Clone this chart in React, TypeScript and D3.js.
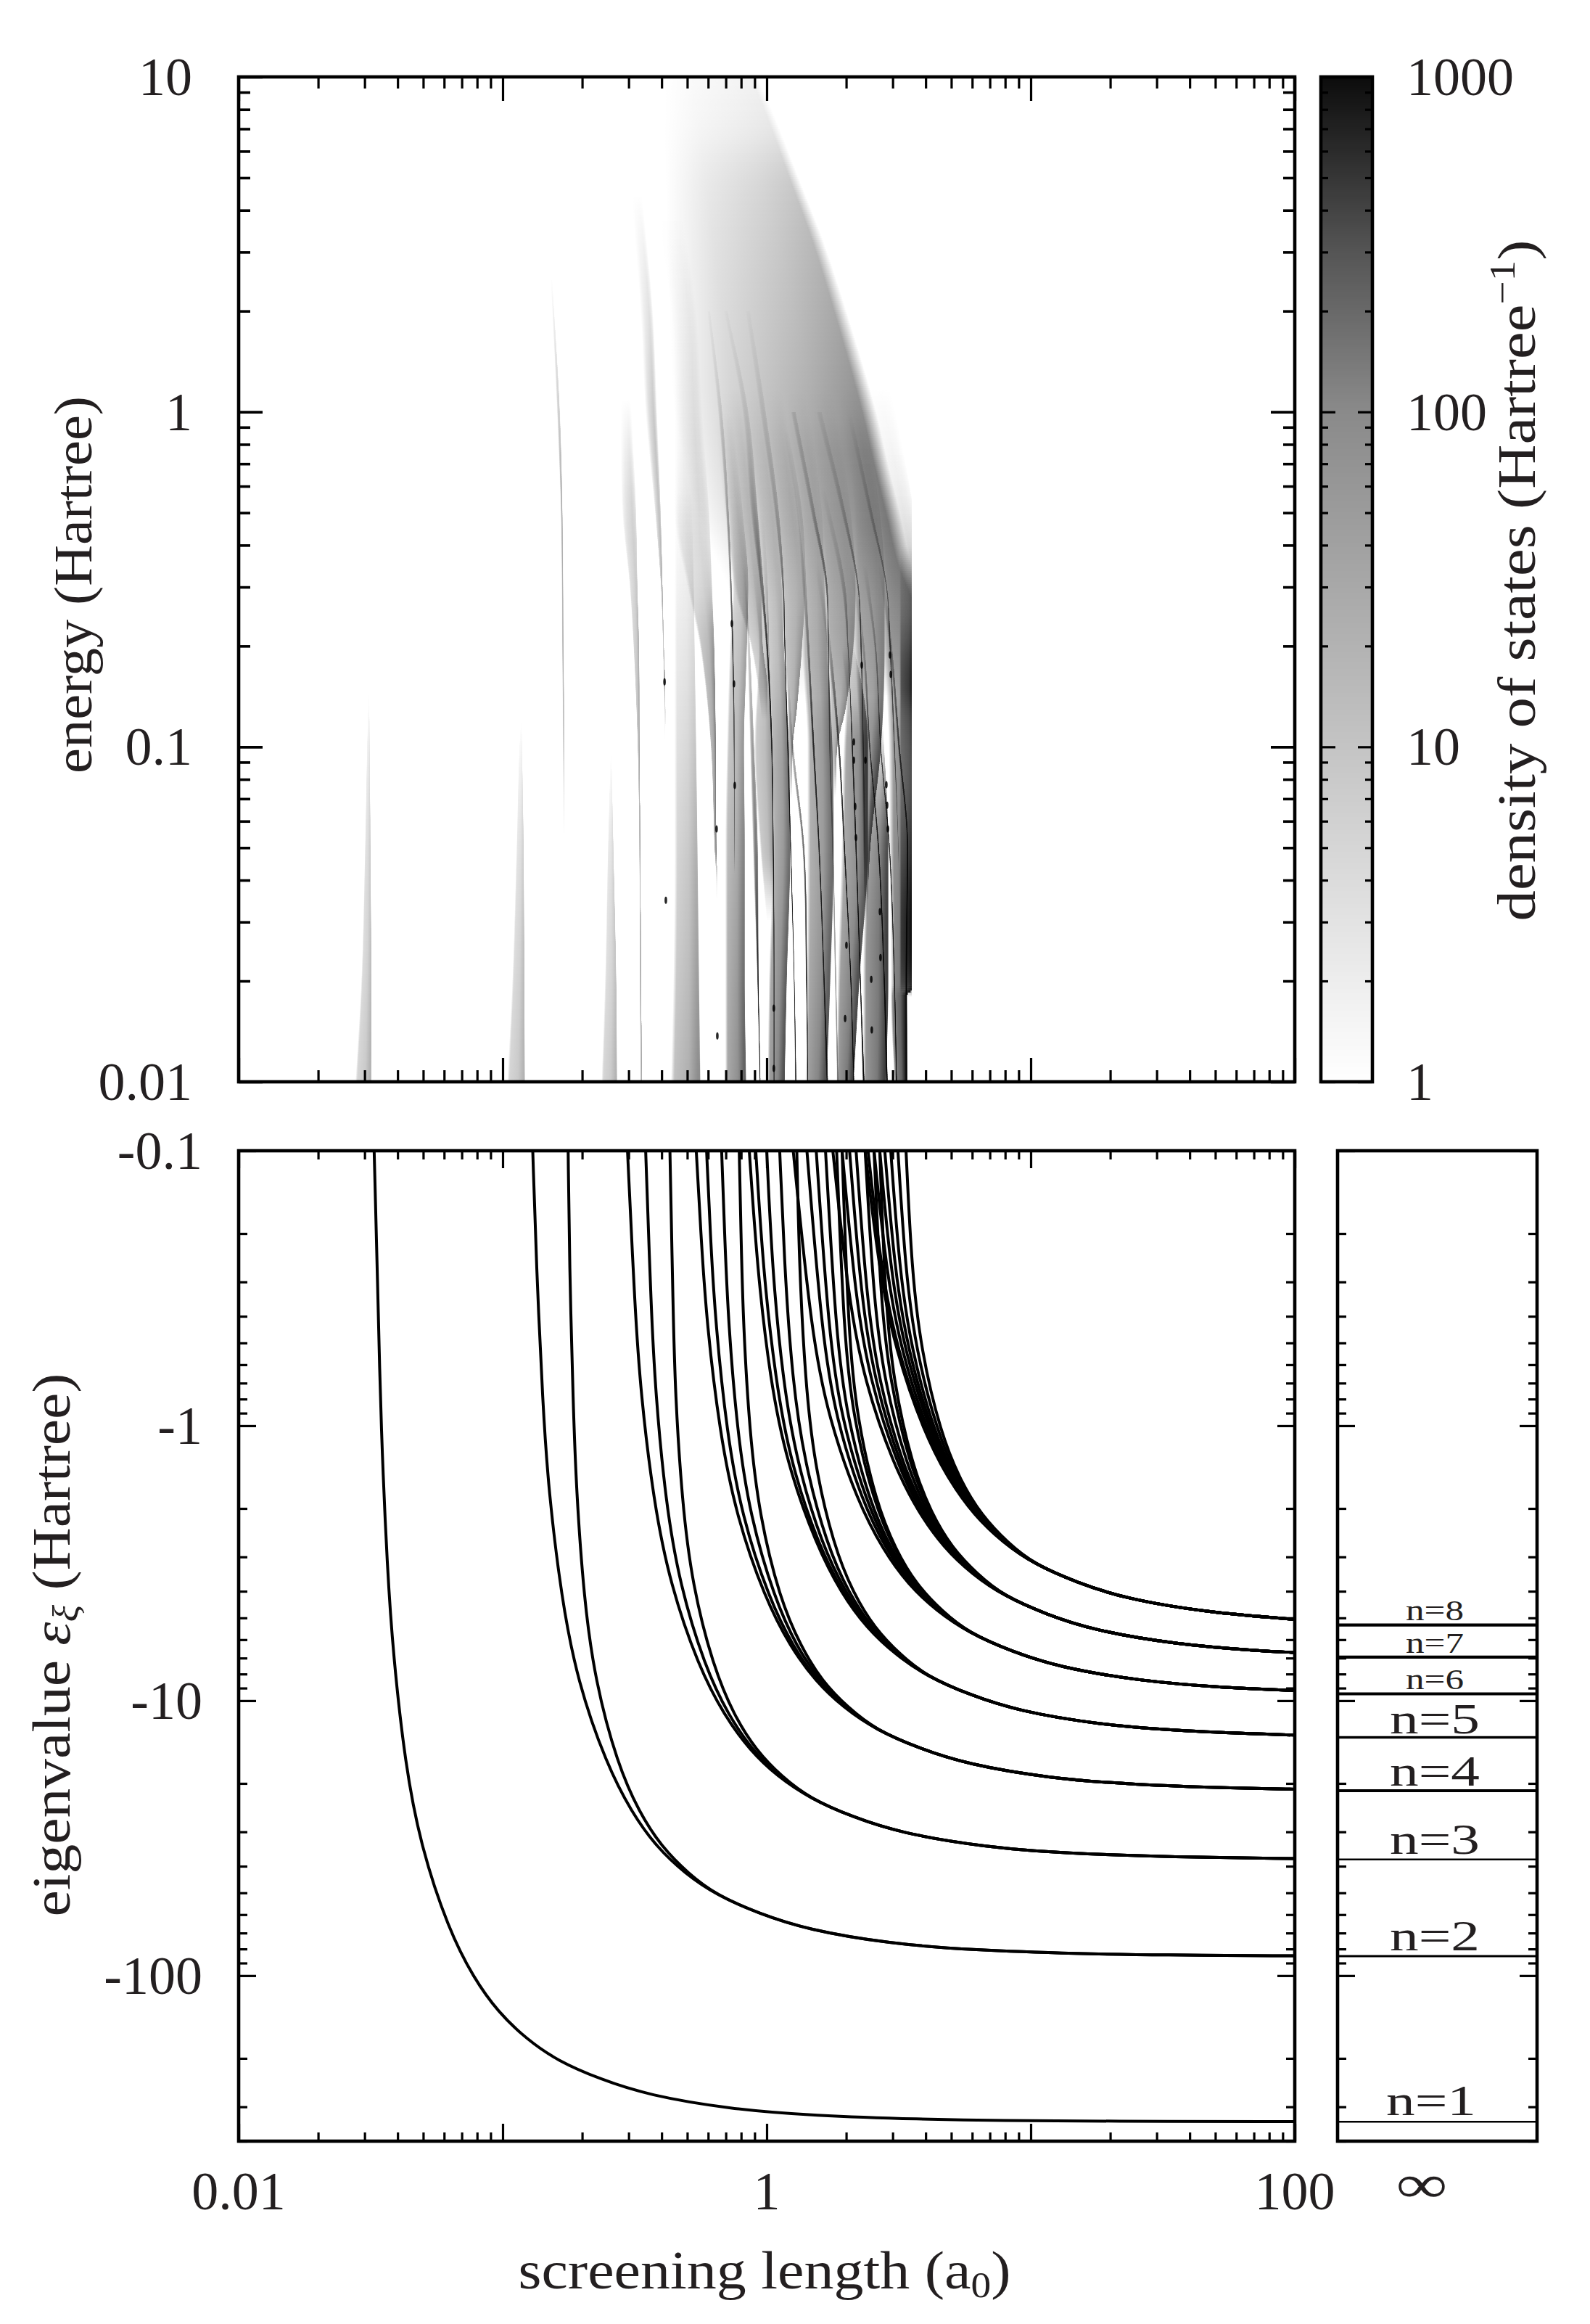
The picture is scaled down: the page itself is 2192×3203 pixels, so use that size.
// App.tsx - screened Coulomb spectrum: density of states above, eigenvalues below
import React, { useRef, useEffect } from 'react';
import * as d3 from 'd3';

const WIDTH = 2192;
const HEIGHT = 3203;
const FONT = '"Liberation Serif", serif';
const INK = '#231f20';

// ---------- eigenvalue curves, screening length vs energy ----------
const n1Lambda = [0.0326, 0.0337, 0.0346, 0.0366, 0.0385, 0.0427, 0.049, 0.0624, 0.0776, 0.0962, 0.123, 0.161, 0.234, 0.354, 0.731, 1.5, 3.85, 7.7, 19.2, 100];
const n1Energy = [-0.1, -0.34, -1.02, -3.4, -6.8, -17, -34, -68, -102, -136, -170, -204, -238, -272, -306, -323, -333.2, -336.6, -338.6, -339.6];

const n2Energy = [-0.1, -0.255, -0.85, -1.7, -4.25, -8.5, -17, -25.5, -34, -42.5];
const n2Heads = [
  [0.13, 0.134, 0.142, 0.149, 0.167, 0.192, 0.247, 0.308, 0.382, 0.49],
  [0.177, 0.179, 0.185, 0.19, 0.203, 0.224, 0.272, 0.329, 0.4, 0.504],
];
const n2TailEnergy = [-51, -59.5, -68, -76.5, -80.75, -83.3, -84.15, -84.74];
const n2TailLambda = [0.646, 0.938, 1.42, 2.92, 6.0, 15.4, 30.8, 100];

const n3Energy = [-0.1, -0.378, -0.756, -1.89, -3.78, -7.56, -11.34, -15.12, -18.9];
const n3Heads = [
  [0.297, 0.317, 0.333, 0.373, 0.431, 0.553, 0.692, 0.861, 1.1],
  [0.348, 0.365, 0.379, 0.414, 0.468, 0.584, 0.718, 0.881, 1.12],
  [0.43, 0.442, 0.45, 0.478, 0.522, 0.628, 0.753, 0.91, 1.14],
];
const n3TailEnergy = [-22.68, -26.46, -30.24, -34.02, -35.91, -37.04, -37.54];
const n3TailLambda = [1.46, 2.11, 3.19, 6.59, 13.5, 34.6, 100];

const n4Energy = [-0.1, -0.2125, -0.425, -1.06, -2.13, -4.25, -6.38, -8.5, -10.63];
const n4Heads = [
  [0.541, 0.565, 0.593, 0.664, 0.767, 0.985, 1.23, 1.53, 1.96],
  [0.592, 0.613, 0.64, 0.706, 0.805, 1.02, 1.26, 1.55, 1.98],
  [0.675, 0.694, 0.716, 0.774, 0.865, 1.07, 1.3, 1.59, 2.01],
  [0.787, 0.8, 0.815, 0.861, 0.939, 1.12, 1.35, 1.62, 2.04],
];
const n4TailEnergy = [-12.75, -14.88, -17, -19.13, -20.19, -20.83, -20.99];
const n4TailLambda = [2.59, 3.76, 5.68, 11.7, 24, 61.5, 100];

const n5Energy = [-0.1, -0.272, -0.68, -1.36, -2.72, -4.08, -5.44, -6.8];
const n5Heads = [
  [0.859, 0.922, 1.03, 1.19, 1.54, 1.92, 2.39, 3.07],
  [0.909, 0.969, 1.08, 1.23, 1.57, 1.95, 2.41, 3.09],
  [1.0, 1.05, 1.15, 1.3, 1.62, 2.0, 2.45, 3.12],
  [1.12, 1.17, 1.25, 1.39, 1.69, 2.05, 2.5, 3.15],
  [1.3, 1.33, 1.4, 1.51, 1.79, 2.13, 2.56, 3.2],
];
const n5TailEnergy = [-8.16, -9.52, -10.88, -12.24, -12.92, -13.34];
const n5TailLambda = [4.05, 5.87, 8.87, 18.3, 37.6, 100];

const n6Energy = [-0.1, -0.472, -0.944, -1.89, -2.83, -3.78, -4.72];
const n6Heads = [
  [1.26, 1.48, 1.72, 2.21, 2.76, 3.43, 4.4],
  [1.42, 1.62, 1.83, 2.3, 2.84, 3.5, 4.46],
  [1.54, 1.72, 1.92, 2.38, 2.9, 3.55, 4.5],
  [1.67, 1.83, 2.02, 2.45, 2.96, 3.6, 4.54],
  [1.84, 1.96, 2.13, 2.54, 3.04, 3.66, 4.59],
  [1.93, 2.04, 2.2, 2.59, 3.08, 3.69, 4.61],
];
const n6TailEnergy = [-5.66, -6.61, -7.55, -8.5, -8.97, -9.18];
const n6TailLambda = [5.81, 8.43, 12.7, 26.3, 54, 100];

const n7Energy = [-0.1, -0.347, -0.694, -1.39, -2.08, -2.78, -3.47];
const n7Heads = [
  [1.78, 2.04, 2.35, 3.02, 3.77, 4.69, 6.0],
  [1.93, 2.17, 2.47, 3.12, 3.85, 4.75, 6.06],
  [2.06, 2.28, 2.57, 3.19, 3.92, 4.8, 6.1],
  [2.18, 2.39, 2.66, 3.27, 3.98, 4.85, 6.14],
  [2.36, 2.54, 2.79, 3.38, 4.06, 4.92, 6.2],
  [2.55, 2.7, 2.93, 3.48, 4.15, 4.99, 6.25],
  [2.68, 2.81, 3.02, 3.55, 4.2, 5.03, 6.29],
];
const n7TailEnergy = [-4.16, -4.86, -5.55, -6.25, -6.59, -6.68];
const n7TailLambda = [7.9, 11.5, 17.3, 35.8, 73.5, 100];

const n8Energy = [-0.1, -0.27, -0.53, -1.06, -1.59, -2.12, -2.66];
const n8Heads = [
  [2.36, 2.66, 3.07, 3.94, 4.92, 6.11, 7.84],
  [2.42, 2.71, 3.12, 3.98, 4.96, 6.14, 7.86],
  [2.55, 2.83, 3.22, 4.06, 5.02, 6.2, 7.91],
  [2.68, 2.94, 3.32, 4.15, 5.1, 6.26, 7.96],
  [2.8, 3.05, 3.42, 4.22, 5.16, 6.31, 8.0],
  [2.95, 3.18, 3.53, 4.31, 5.23, 6.37, 8.05],
  [3.14, 3.35, 3.67, 4.43, 5.32, 6.44, 8.1],
  [3.37, 3.54, 3.84, 4.55, 5.42, 6.52, 8.17],
];
const n8TailEnergy = [-3.19, -3.72, -4.25, -4.78, -5.06];
const n8TailLambda = [10.3, 15, 22.6, 46.8, 100];

const families = [
  { energy: n2Energy, heads: n2Heads, tailEnergy: n2TailEnergy, tailLambda: n2TailLambda },
  { energy: n3Energy, heads: n3Heads, tailEnergy: n3TailEnergy, tailLambda: n3TailLambda },
  { energy: n4Energy, heads: n4Heads, tailEnergy: n4TailEnergy, tailLambda: n4TailLambda },
  { energy: n5Energy, heads: n5Heads, tailEnergy: n5TailEnergy, tailLambda: n5TailLambda },
  { energy: n6Energy, heads: n6Heads, tailEnergy: n6TailEnergy, tailLambda: n6TailLambda },
  { energy: n7Energy, heads: n7Heads, tailEnergy: n7TailEnergy, tailLambda: n7TailLambda },
  { energy: n8Energy, heads: n8Heads, tailEnergy: n8TailEnergy, tailLambda: n8TailLambda },
];

// unscreened levels in the narrow panel
const coulombLevels = [-340, -85, -37.8, -21.25, -13.6, -9.44, -6.94, -5.31];
const levelNames = ['n=1', 'n=2', 'n=3', 'n=4', 'n=5', 'n=6', 'n=7', 'n=8'];
const levelWidths = [2.6, 3, 2.6, 4, 3.6, 4, 4.2, 4.2];
const labelGaps = [9, 8, 8, 7, 6, 6, 6, 7];

// ---------- density of states streaks ----------
// each row: energy, log10 left edge, log10 right edge, darkness
type Row = [number, number, number, number];

const envelope: Row[] = [
  [10, -0.39, -0.033, 0.05], [7, -0.39, 0.049, 0.1], [5, -0.385, 0.121, 0.2], [3.2, -0.38, 0.217, 0.28],
  [2, -0.37, 0.302, 0.34], [1, -0.349, 0.415, 0.44], [0.7, -0.31, 0.46, 0.5], [0.5, -0.266, 0.505, 0.5],
  [0.35, -0.184, 0.549, 0.44], [0.25, -0.1, 0.62, 0.34], [0.18, -0.02, 0.66, 0.2], [0.14, 0.03, 0.668, 0],
];

const faintBands: Row[][] = [
  // lowest states
  [[0.145, -1.508, -1.505, 0], [0.1, -1.514, -1.503, 0.1], [0.05, -1.522, -1.5, 0.2], [0.02, -1.536, -1.497, 0.26], [0.01, -1.558, -1.497, 0.3]],
  [[0.119, -0.931, -0.928, 0], [0.1, -0.937, -0.926, 0.05], [0.05, -0.948, -0.92, 0.18], [0.02, -0.964, -0.917, 0.26], [0.01, -0.983, -0.915, 0.3]],
  [[0.098, -0.591, -0.588, 0], [0.05, -0.602, -0.58, 0.15], [0.02, -0.613, -0.569, 0.24], [0.01, -0.626, -0.566, 0.3]],
  [[1.1, -0.555, -0.514, 0], [0.5, -0.547, -0.494, 0.22], [0.3, -0.519, -0.489, 0.25], [0.2, -0.505, -0.483, 0.3], [0.1, -0.489, -0.481, 0.4], [0.05, -0.483, -0.478, 0.45], [0.02, -0.481, -0.475, 0.4], [0.01, -0.478, -0.472, 0.4]],
  [[4.5, -0.514, -0.472, 0], [2, -0.478, -0.431, 0.14], [1, -0.459, -0.415, 0.25], [0.5, -0.423, -0.401, 0.32], [0.3, -0.401, -0.394, 0.4], [0.2, -0.393, -0.389, 0.35], [0.16, -0.39, -0.385, 0.5], [0.12, -0.387, -0.383, 0.1], [0.105, -0.387, -0.385, 0]],
  [[4, -0.42, -0.32, 0], [2, -0.363, -0.266, 0.05], [1, -0.349, -0.244, 0.1], [0.5, -0.349, -0.217, 0.18], [0.3, -0.3, -0.206, 0.24], [0.2, -0.253, -0.198, 0.4], [0.1, -0.212, -0.192, 0.5], [0.05, -0.198, -0.19, 0.6], [0.04, -0.192, -0.187, 0.1], [0.035, -0.192, -0.187, 0]],
  [[0.6, -0.349, -0.285, 0], [0.3, -0.349, -0.275, 0.1], [0.2, -0.349, -0.272, 0.14], [0.1, -0.349, -0.266, 0.22], [0.05, -0.349, -0.261, 0.3], [0.02, -0.354, -0.255, 0.38], [0.01, -0.363, -0.25, 0.45]],
];

const bands: Row[][] = [
  [[1, -0.2, -0.13, 0], [0.5, -0.16, -0.09, 0.12], [0.3, -0.129, -0.069, 0.25], [0.2, -0.14, -0.074, 0.28], [0.1, -0.151, -0.085, 0.32], [0.05, -0.157, -0.082, 0.38], [0.02, -0.157, -0.082, 0.45], [0.01, -0.157, -0.077, 0.5]],
  [[1.2, -0.2, -0.08, 0], [0.5, -0.143, -0.033, 0.15], [0.3, -0.124, -0.019, 0.22], [0.2, -0.06, -0.014, 0.25], [0.15, -0.033, 0.003, 0.2], [0.12, -0.019, 0.003, 0]],
  [[0.5, -0.08, -0.01, 0], [0.3, -0.05, 0.005, 0.1], [0.2, -0.03, 0.01, 0.22], [0.1, -0.047, 0.022, 0.3], [0.05, -0.025, 0.027, 0.3], [0.03, 0.0, 0.03, 0]],
  [[1.2, -0.1, -0.02, 0], [0.5, -0.03, 0.04, 0.1], [0.3, -0.011, 0.058, 0.18], [0.2, 0.003, 0.066, 0.26], [0.1, 0.016, 0.085, 0.42], [0.05, 0.022, 0.09, 0.45], [0.02, 0.008, 0.077, 0.5], [0.01, 0.003, 0.069, 0.55]],
  [[1.2, -0.03, 0.06, 0], [0.5, 0.04, 0.12, 0.1], [0.3, 0.058, 0.146, 0.18], [0.2, 0.066, 0.135, 0.28], [0.13, 0.08, 0.115, 0.36], [0.1, 0.082, 0.099, 0.36], [0.07, 0.085, 0.096, 0]],
  [[1.2, 0.06, 0.15, 0], [0.5, 0.13, 0.21, 0.08], [0.3, 0.14, 0.22, 0.18], [0.2, 0.135, 0.231, 0.28], [0.1, 0.154, 0.25, 0.45], [0.05, 0.154, 0.255, 0.45], [0.02, 0.151, 0.242, 0.5], [0.01, 0.146, 0.228, 0.55]],
  [[1.2, 0.13, 0.25, 0], [0.5, 0.2, 0.32, 0.08], [0.3, 0.22, 0.338, 0.2], [0.2, 0.23, 0.33, 0.3], [0.13, 0.24, 0.3, 0.36], [0.1, 0.244, 0.268, 0.36], [0.07, 0.25, 0.262, 0]],
  [[0.2, 0.28, 0.33, 0], [0.14, 0.3, 0.37, 0.32], [0.1, 0.291, 0.385, 0.5], [0.05, 0.283, 0.385, 0.5], [0.02, 0.269, 0.352, 0.55], [0.01, 0.264, 0.33, 0.6]],
  [[1.2, 0.26, 0.35, 0], [0.5, 0.33, 0.43, 0.1], [0.3, 0.335, 0.448, 0.2], [0.2, 0.335, 0.448, 0.3], [0.1, 0.354, 0.434, 0.5], [0.05, 0.365, 0.393, 0.5], [0.03, 0.37, 0.38, 0]],
  [[0.12, 0.4, 0.44, 0], [0.05, 0.379, 0.462, 0.55], [0.02, 0.365, 0.462, 0.6], [0.01, 0.365, 0.453, 0.6]],
  [[1.2, 0.33, 0.47, 0], [0.5, 0.42, 0.56, 0.1], [0.3, 0.44, 0.6, 0.25], [0.2, 0.445, 0.6, 0.36], [0.1, 0.462, 0.6, 0.55], [0.05, 0.465, 0.6, 0.62], [0.02, 0.47, 0.6, 0.7], [0.018, 0.47, 0.53, 0.7], [0.01, 0.483, 0.53, 0.7]],
  [[0.4, 0.503, 0.56, 0], [0.35, 0.503, 0.56, 0.12], [0.25, 0.503, 0.56, 0.3], [0.15, 0.503, 0.56, 0.7], [0.12, 0.503, 0.56, 0.5], [0.08, 0.503, 0.56, 0.35], [0.05, 0.503, 0.56, 0.55], [0.03, 0.503, 0.56, 0.8], [0.02, 0.503, 0.56, 0.6], [0.0179, 0.503, 0.56, 0]],
];
const bandGain = 1.25;

// thin resonance lines
const lines: Row[][] = [
  [[2.55, -0.819, -0.813, 0], [1, -0.794, -0.783, 0.2], [0.5, -0.78, -0.773, 0.32], [0.2, -0.775, -0.769, 0.32], [0.1, -0.772, -0.766, 0.22], [0.054, -0.769, -0.766, 0]],
  [[2, -0.225, -0.214, 0.02], [1, -0.184, -0.168, 0.12], [0.5, -0.154, -0.143, 0.3], [0.3, -0.14, -0.132, 0.55], [0.2, -0.132, -0.126, 0.8], [0.1, -0.126, -0.121, 0.6], [0.05, -0.124, -0.121, 0.3], [0.042, -0.124, -0.121, 0]],
  [[0.35, -0.09, -0.08, 0], [0.2, -0.074, -0.063, 0.2], [0.1, -0.063, -0.047, 0.4], [0.05, -0.052, -0.033, 0.55], [0.02, -0.036, -0.03, 0.9], [0.01, -0.027, -0.023, 1]],
  [[2, -0.162, -0.148, 0.02], [1, -0.091, -0.069, 0.1], [0.5, -0.06, -0.033, 0.25], [0.3, -0.025, -0.011, 0.5], [0.2, -0.003, 0.005, 0.8], [0.1, 0.016, 0.022, 0.9], [0.05, 0.022, 0.027, 0.9], [0.02, 0.025, 0.03, 0.7], [0.01, 0.025, 0.03, 0.7]],
  [[2, -0.08, -0.063, 0.02], [1, -0.025, -0.003, 0.1], [0.5, 0.03, 0.047, 0.25], [0.3, 0.058, 0.066, 0.55], [0.2, 0.066, 0.071, 0.9], [0.1, 0.077, 0.082, 0.9], [0.05, 0.088, 0.093, 0.9], [0.02, 0.102, 0.106, 0.85], [0.01, 0.107, 0.113, 0.9]],
  [[0.16, 0.075, 0.085, 0], [0.1, 0.091, 0.102, 0.3], [0.05, 0.135, 0.143, 0.6], [0.02, 0.148, 0.154, 0.9], [0.01, 0.154, 0.157, 1]],
  [[1, 0.091, 0.11, 0.1], [0.5, 0.168, 0.184, 0.25], [0.3, 0.223, 0.231, 0.55], [0.2, 0.231, 0.236, 0.7], [0.1, 0.236, 0.242, 0.5], [0.05, 0.247, 0.253, 0.4], [0.02, 0.258, 0.264, 0.4], [0.01, 0.266, 0.272, 0.5]],
  [[0.9, 0.06, 0.08, 0], [0.5, 0.113, 0.135, 0.12], [0.3, 0.135, 0.151, 0.22], [0.2, 0.151, 0.162, 0.4], [0.1, 0.173, 0.181, 0.8], [0.05, 0.195, 0.201, 0.85], [0.02, 0.214, 0.22, 0.85], [0.01, 0.225, 0.233, 0.9]],
  [[1, 0.187, 0.209, 0.05], [0.5, 0.283, 0.299, 0.2], [0.3, 0.343, 0.349, 0.5], [0.2, 0.354, 0.36, 0.7], [0.1, 0.363, 0.368, 0.6], [0.05, 0.368, 0.374, 0.3], [0.035, 0.372, 0.376, 0]],
  [[0.6, 0.2, 0.22, 0], [0.3, 0.283, 0.299, 0.2], [0.2, 0.305, 0.31, 0.45], [0.1, 0.321, 0.327, 0.85], [0.05, 0.335, 0.341, 0.9], [0.02, 0.352, 0.357, 0.95], [0.01, 0.363, 0.371, 1]],
  [[0.35, 0.18, 0.2, 0], [0.2, 0.228, 0.244, 0.2], [0.1, 0.269, 0.277, 0.75], [0.05, 0.291, 0.297, 0.9], [0.02, 0.316, 0.321, 0.95], [0.01, 0.327, 0.332, 1]],
  [[1, 0.3, 0.32, 0], [0.5, 0.387, 0.401, 0.2], [0.3, 0.451, 0.456, 0.45], [0.2, 0.464, 0.47, 0.65], [0.1, 0.481, 0.486, 0.6], [0.05, 0.497, 0.5, 0.3], [0.035, 0.5, 0.503, 0]],
  [[0.35, 0.31, 0.33, 0], [0.2, 0.36, 0.371, 0.2], [0.1, 0.387, 0.393, 0.7], [0.05, 0.42, 0.426, 0.9], [0.02, 0.442, 0.448, 0.95], [0.01, 0.451, 0.459, 1]],
  [[0.35, 0.36, 0.38, 0], [0.2, 0.407, 0.415, 0.3], [0.1, 0.429, 0.434, 0.7], [0.05, 0.462, 0.467, 0.9], [0.02, 0.481, 0.486, 0.9], [0.01, 0.489, 0.494, 1]],
  [[0.35, 0.42, 0.44, 0], [0.2, 0.464, 0.475, 0.3], [0.1, 0.497, 0.505, 0.7], [0.05, 0.53, 0.536, 0.9], [0.02, 0.525, 0.532, 1], [0.01, 0.525, 0.533, 1]],
];

// small black spots where resonances sharpen: log10 length, log10 energy
const spots = [
  [-0.387, -0.806], [-0.382, -1.458], [-0.187, -1.863], [-0.19, -1.245], [-0.132, -0.632], [-0.124, -0.812],
  [-0.121, -1.115], [0.027, -1.78], [0.027, -1.96], [0.36, -0.756], [0.47, -0.784], [0.467, -0.726],
  [0.33, -0.985], [0.33, -1.04], [0.374, -1.04], [0.453, -1.113], [0.335, -1.178], [0.456, -1.174],
  [0.459, -1.245], [0.338, -1.271], [0.302, -1.592], [0.297, -1.811], [0.398, -1.845], [0.429, -1.492],
  [0.431, -1.629], [0.396, -1.694],
];

// colour bar: density to grey
const densityStops = [1, 10, 100, 300, 1000];
const densityGreys = ['#ffffff', '#c4c4c4', '#8a8a8a', '#555555', '#0c0c0c'];

// ---------- ticks ----------
const decadeTicks = (lo: number, hi: number, sign = 1) => {
  const minor: number[] = [];
  const major: number[] = [];
  for (let e = lo; e <= hi; e++) {
    major.push(sign * 10 ** e);
    if (e < hi) for (let m = 2; m < 10; m++) minor.push(sign * m * 10 ** e);
  }
  return { minor, major };
};

// smooth, non overshooting reading between the rows of a streak
const monotone = (ys: number[], vs: number[]) => {
  const n = ys.length;
  const d = d3.range(n - 1).map(i => (vs[i + 1] - vs[i]) / Math.max(1, ys[i + 1] - ys[i]));
  const m = ys.map((_, i) => {
    if (i === 0) return d[0];
    if (i === n - 1) return d[n - 2];
    if (d[i - 1] * d[i] <= 0) return 0;
    const s = (d[i - 1] + d[i]) / 2;
    return Math.sign(s) * Math.min(Math.abs(s), 3 * Math.min(Math.abs(d[i - 1]), Math.abs(d[i])));
  });
  return (y: number) => {
    let i = 0;
    while (i < n - 2 && y > ys[i + 1]) i++;
    const h = Math.max(1, ys[i + 1] - ys[i]);
    const t = (y - ys[i]) / h;
    const t2 = t * t;
    const t3 = t2 * t;
    return (2 * t3 - 3 * t2 + 1) * vs[i] + (t3 - 2 * t2 + t) * h * m[i] + (-2 * t3 + 3 * t2) * vs[i + 1] + (t3 - t2) * h * m[i + 1];
  };
};

const App: React.FC = () => {
  const svgRef = useRef<SVGSVGElement>(null);

  useEffect(() => {
    const svg = d3.select(svgRef.current);
    svg.selectAll('*').remove();

    const x = d3.scaleLog().domain([0.01, 100]).range([329, 1785]);
    const yDos = d3.scaleLog().domain([0.01, 10]).range([1491, 106]);
    const yEig = d3.scaleLog().domain([-0.1, -400]).range([1586, 2951]);
    const yBar = d3.scaleLog().domain([1, 1000]).range([1491, 106]);
    const grey = d3.scaleLog<string>().domain(densityStops).range(densityGreys);
    const xAt = (logLen: number) => x(10 ** logLen);

    const defs = svg.append('defs');
    const gradient = (id: string, stops: [number, number][]) => {
      const g = defs.append('linearGradient').attr('id', id).attr('x1', 0).attr('x2', 1).attr('y1', 0).attr('y2', 0);
      stops.forEach(([o, a]) => g.append('stop').attr('offset', o).attr('stop-color', '#000').attr('stop-opacity', a));
    };
    gradient('envelopeFill', [[0, 0], [0.3, 0.4], [0.7, 0.75], [0.93, 1], [1, 0]]);
    gradient('bandFill', [[0, 0], [0.12, 0.55], [0.6, 0.7], [0.9, 1], [0.97, 1], [1, 0]]);
    gradient('softFill', [[0, 0], [0.3, 0.5], [0.7, 0.85], [0.85, 0.6], [1, 0]]);
    gradient('lineFill', [[0, 0.1], [0.3, 0.8], [0.6, 1], [0.9, 0.8], [1, 0.1]]);
    defs.append('clipPath').attr('id', 'dosClip').append('rect')
      .attr('x', 329).attr('y', 106).attr('width', 1257 - 329).attr('height', 1385);

    // Density of states: thin integer rows so the streaks have no seams
    const dos = svg.append('g').attr('clip-path', 'url(#dosClip)');
    const softness = d3.scaleLinear().domain([620, 860]).range([1, 0]).clamp(true);
    const drawStreak = (rows: Row[], fill: string, gain = 1, soften = false) => {
      const sorted = [...rows].sort((a, b) => b[0] - a[0]);
      const ys = sorted.map(r => yDos(r[0]));
      const left = monotone(ys, sorted.map(r => r[1]));
      const right = monotone(ys, sorted.map(r => r[2]));
      const dark = monotone(ys, sorted.map(r => r[3]));
      const step = 3;
      const y0 = Math.round(ys[0]);
      const y1 = Math.round(ys[ys.length - 1]);
      for (let y = y0; y < y1; y += step) {
        const mid = y + step / 2;
        const alpha = dark(mid) * gain;
        if (alpha <= 0.005) continue;
        const l = xAt(left(mid));
        const r = xAt(right(mid));
        const rowRect = (f: string, a: number) => dos.append('rect')
          .attr('x', l).attr('y', y)
          .attr('width', Math.max(1, r - l)).attr('height', Math.min(step, y1 - y))
          .attr('fill', f).attr('fill-opacity', a);
        const w = soften ? softness(mid) : 0;
        if (w > 0) rowRect('url(#softFill)', alpha * w);
        if (w < 1) rowRect(fill, alpha * (1 - w));
      }
    };
    drawStreak(envelope, 'url(#envelopeFill)');
    faintBands.forEach(b => drawStreak(b, 'url(#bandFill)', 1, true));
    bands.forEach(b => drawStreak(b, 'url(#bandFill)', bandGain, true));
    lines.forEach(l => drawStreak(l, 'url(#lineFill)'));
    dos.selectAll('ellipse.spot').data(spots).enter().append('ellipse')
      .attr('class', 'spot')
      .attr('cx', d => xAt(d[0])).attr('cy', d => yDos(10 ** d[1]))
      .attr('rx', 1.8).attr('ry', 5).attr('fill', '#000').attr('fill-opacity', 0.85);

    // Colour bar
    const barLeft = 1821;
    const barRight = 1892;
    const bar = svg.append('g');
    d3.range(106, 1491, 3).forEach(y => {
      bar.append('rect').attr('x', barLeft).attr('y', y)
        .attr('width', barRight - barLeft).attr('height', 3)
        .attr('fill', grey(yBar.invert(y + 1.5)));
    });

    // Eigenvalue curves
    const curveLine = d3.line<[number, number]>()
      .x(d => x(d[0])).y(d => yEig(d[1]))
      .curve(d3.curveBasis);
    const curves = svg.append('g').attr('fill', 'none').attr('stroke', '#000').attr('stroke-width', 4);
    curves.append('path').attr('d', curveLine(n1Lambda.map((l, i) => [l, n1Energy[i]] as [number, number])));
    families.forEach(f => {
      f.heads.forEach(head => {
        const pts = head.map((l, i) => [l, f.energy[i]] as [number, number])
          .concat(f.tailLambda.map((l, i) => [l, f.tailEnergy[i]] as [number, number]));
        curves.append('path').attr('d', curveLine(pts));
      });
    });

    // Levels at infinite screening length
    const levelLeft = 1844;
    const levelRight = 2119;
    svg.append('g').selectAll('line').data(coulombLevels).enter().append('line')
      .attr('x1', levelLeft).attr('x2', levelRight)
      .attr('y1', d => yEig(d)).attr('y2', d => yEig(d))
      .attr('stroke', '#000').attr('stroke-width', (_, i) => levelWidths[i]);

    // Tick helpers: all ticks point inwards, so negative tick sizes
    const ticks = (axis: (s: any) => any, scale: any, values: number[], len: number, at: string, width: number) => {
      const g = svg.append('g').attr('transform', at)
        .call(axis(scale).tickValues(values).tickSize(-len).tickFormat(() => ''));
      g.select('.domain').remove();
      g.selectAll('line').attr('stroke', '#000').attr('stroke-width', width);
    };
    const xTicks = decadeTicks(-2, 2);
    const dosTicks = decadeTicks(-2, 1);
    const eigTicks = decadeTicks(-1, 2, -1);
    eigTicks.minor.push(-200, -300, -400);

    const frame = (l: number, t: number, r: number, b: number, w = 4.6) =>
      svg.append('rect').attr('x', l).attr('y', t).attr('width', r - l).attr('height', b - t)
        .attr('fill', 'none').attr('stroke', '#000').attr('stroke-width', w);

    // top panel
    ticks(d3.axisBottom, x, xTicks.minor, 16, 'translate(0,1491)', 3.2);
    ticks(d3.axisBottom, x, xTicks.major, 33, 'translate(0,1491)', 3.2);
    ticks(d3.axisTop, x, xTicks.minor, 16, 'translate(0,106)', 3.2);
    ticks(d3.axisTop, x, xTicks.major, 33, 'translate(0,106)', 3.2);
    ticks(d3.axisLeft, yDos, dosTicks.minor, 16, 'translate(329,0)', 3.6);
    ticks(d3.axisLeft, yDos, dosTicks.major, 33, 'translate(329,0)', 3.6);
    ticks(d3.axisRight, yDos, dosTicks.minor, 16, 'translate(1785,0)', 3.6);
    ticks(d3.axisRight, yDos, dosTicks.major, 33, 'translate(1785,0)', 3.6);
    frame(329, 106, 1785, 1491);

    // bottom panel
    ticks(d3.axisBottom, x, xTicks.minor, 12, 'translate(0,2951)', 3.2);
    ticks(d3.axisBottom, x, xTicks.major, 24, 'translate(0,2951)', 3.2);
    ticks(d3.axisTop, x, xTicks.minor, 12, 'translate(0,1586)', 3.2);
    ticks(d3.axisTop, x, xTicks.major, 24, 'translate(0,1586)', 3.2);
    ticks(d3.axisLeft, yEig, eigTicks.minor, 12, 'translate(329,0)', 3.2);
    ticks(d3.axisLeft, yEig, eigTicks.major, 24, 'translate(329,0)', 3.2);
    ticks(d3.axisRight, yEig, eigTicks.minor, 12, 'translate(1785,0)', 3.2);
    ticks(d3.axisRight, yEig, eigTicks.major, 24, 'translate(1785,0)', 3.2);
    frame(329, 1586, 1785, 2951);

    // infinity panel
    ticks(d3.axisLeft, yEig, eigTicks.minor, 12, `translate(${levelLeft},0)`, 3.2);
    ticks(d3.axisLeft, yEig, eigTicks.major, 24, `translate(${levelLeft},0)`, 3.2);
    ticks(d3.axisRight, yEig, eigTicks.minor, 12, `translate(${levelRight},0)`, 3.2);
    ticks(d3.axisRight, yEig, eigTicks.major, 24, `translate(${levelRight},0)`, 3.2);
    frame(levelLeft, 1586, levelRight, 2951);

    // colour bar ticks and frame
    const barTicks = decadeTicks(0, 3);
    ticks(d3.axisLeft, yBar, barTicks.minor, 10, `translate(${barLeft},0)`, 3.2);
    ticks(d3.axisLeft, yBar, barTicks.major, 20, `translate(${barLeft},0)`, 3.2);
    ticks(d3.axisRight, yBar, barTicks.minor, 10, `translate(${barRight},0)`, 3.2);
    ticks(d3.axisRight, yBar, barTicks.major, 20, `translate(${barRight},0)`, 3.2);
    frame(barLeft, 106, barRight, 1491);

    // Text
    const label = (s: string, px: number, py: number, anchor = 'start', size = 74) =>
      svg.append('text').attr('x', px).attr('y', py).attr('text-anchor', anchor)
        .attr('font-family', FONT).attr('font-size', size).attr('fill', INK).text(s);

    ['10', '1', '0.1', '0.01'].forEach((s, i) => label(s, 265, yDos(10 / 10 ** i) + 25, 'end'));
    ['-0.1', '-1', '-10', '-100'].forEach((s, i) => label(s, 279, yEig(-0.1 * 10 ** i) + 25, 'end'));
    ['1000', '100', '10', '1'].forEach((s, i) => label(s, 1939, yBar(1000 / 10 ** i) + 25));
    ['0.01', '1', '100'].forEach((s, i) => label(s, x([0.01, 1, 100][i]), 3045, 'middle'));
    label('\u221E', 1960, 3035, 'middle').attr('textLength', 71).attr('lengthAdjust', 'spacingAndGlyphs');

    coulombLevels.forEach((level, i) => {
      const big = i < 5;
      label(levelNames[i], 1978 - (i === 0 ? 5 : 0), yEig(level) - labelGaps[i], 'middle', big ? 59 : 40)
        .attr('textLength', big ? 124 : 80).attr('lengthAdjust', 'spacingAndGlyphs');
    });

    const rotated = (bx: number, cy: number, length: number) =>
      svg.append('text').attr('transform', `translate(${bx},${cy}) rotate(-90)`).attr('text-anchor', 'middle')
        .attr('font-family', FONT).attr('font-size', 74).attr('fill', INK)
        .attr('textLength', length).attr('lengthAdjust', 'spacingAndGlyphs');

    rotated(126, 806, 520).text('energy (Hartree)');

    const eigTitle = rotated(96, 2267, 749);
    eigTitle.append('tspan').text('eigenvalue ');
    eigTitle.append('tspan').attr('font-style', 'italic').text('\u03B5');
    eigTitle.append('tspan').attr('font-style', 'italic').attr('font-size', 50).attr('dy', 12).text('\u03BE');
    eigTitle.append('tspan').attr('dy', -12).text(' (Hartree)');

    const dosTitle = rotated(2116, 800, 939);
    dosTitle.append('tspan').text('density of states (Hartree');
    dosTitle.append('tspan').attr('font-size', 50).attr('dy', -28).text('\u22121');
    dosTitle.append('tspan').attr('dy', 28).text(')');

    const xTitle = svg.append('text').attr('x', 1054).attr('y', 3154).attr('text-anchor', 'middle')
      .attr('font-family', FONT).attr('font-size', 74).attr('fill', INK)
      .attr('textLength', 679).attr('lengthAdjust', 'spacingAndGlyphs');
    xTitle.append('tspan').text('screening length (a');
    xTitle.append('tspan').attr('font-size', 50).attr('dy', 12).text('0');
    xTitle.append('tspan').attr('dy', -12).text(')');
  }, []);

  return (
    <svg
      ref={svgRef}
      width={WIDTH}
      height={HEIGHT}
      style={{ position: 'absolute', left: 0, top: 0, background: '#fff' }}
    />
  );
};

export default App;
